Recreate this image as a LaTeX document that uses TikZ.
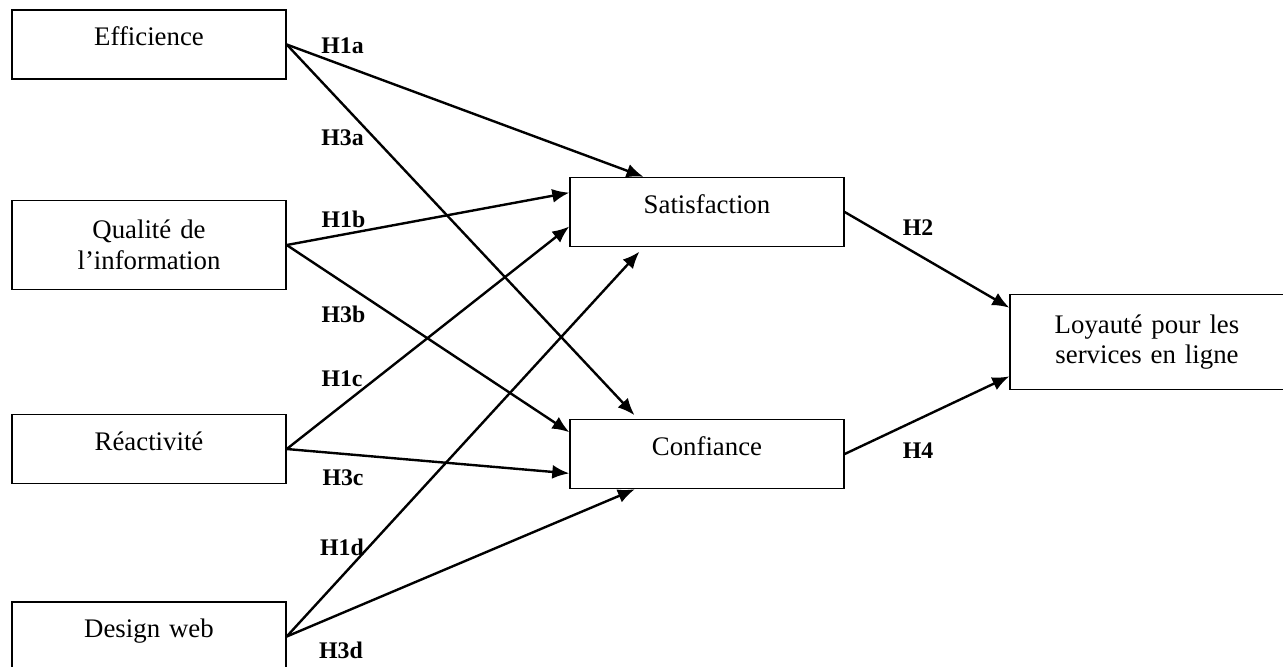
\documentclass[tikz,border=0pt]{standalone}
\usepackage{fontspec}
\setmainfont{Liberation Serif}
\usepackage{tikz}
\usetikzlibrary{arrows.meta}
\usetikzlibrary{positioning}

\begin{document}
\begin{tikzpicture}[>={Latex[length=8.5pt,width=7pt]}, x=0.5pt, y=-0.5pt, on grid,
       facteur/.style={draw, line width=0.7pt, minimum width=137pt,
       minimum height=34.5pt, text width=125pt, align=center,
       font=\fontsize{13.4pt}{15.3pt}\selectfont},
       seul/.style={text height=9pt, text depth=8pt},
       hyp/.style={font=\fontsize{11.9pt}{14pt}\selectfont\bfseries},
       lien/.style={->, line width=1.2pt}]

       \useasboundingbox (0,0) rectangle (1283,666);

       % variables explicatives
       \node[facteur, seul] (Efficience) at (149,44.5) {Efficience};
       \node[facteur, minimum height=44.5pt, below=100.25pt of Efficience]
       (Qualite) {Qualité de\\ l’information};
       \node[facteur, seul, below=102pt of Qualite] (Reactivite) {Réactivité};
       \node[facteur, seul, below=93.75pt of Reactivite] (Design) {Design web};

       % variables mediatrices
       \node[facteur, seul, below right=83.75pt and 279pt of Efficience]
       (Satisfaction) {Satisfaction};
       \node[facteur, seul, below=121pt of Satisfaction] (Confiance) {Confiance};

       % variable finale
       \node[facteur, minimum height=47.5pt, below right=65pt and 220pt of Satisfaction]
       (Loyaute) {Loyauté pour les\\ services en ligne};

       \path[lien] (Efficience.east) edge (Satisfaction.151);
       \path[lien] (Efficience.east) edge[shorten >=2.5pt] (Confiance.153);
       \path[lien] (Qualite.east) edge (Satisfaction.172);
       \path[lien] (Qualite.east) edge (Confiance.171);
       \path[lien] (Reactivite.east) edge (Satisfaction.186);
       \path[lien] (Reactivite.east) edge (Confiance.188);
       \path[lien] (Design.east) edge[shorten >=3pt] (Satisfaction.209);
       \path[lien] (Design.east) edge (Confiance.206);
       \path[lien] (Satisfaction.east) edge (Loyaute.166);
       \path[lien] (Confiance.east) edge (Loyaute.194);

       % hypotheses
       \node[hyp] (H1a) at (342.5,46) {H1a};
       \node[hyp] (H3a) at (342.5,138) {H3a};
       \node[hyp] (H1b) at (343.5,219) {H1b};
       \node[hyp] (H3b) at (343.5,314) {H3b};
       \node[hyp] (H1c) at (342,379) {H1c};
       \node[hyp] (H3c) at (343,478) {H3c};
       \node[hyp] (H1d) at (342,547) {H1d};
       \node[hyp] (H3d) at (341,650) {H3d};
       \node[hyp] (H2) at (918,228) {H2};
       \node[hyp] (H4) at (918,451) {H4};

\end{tikzpicture}
\end{document}
